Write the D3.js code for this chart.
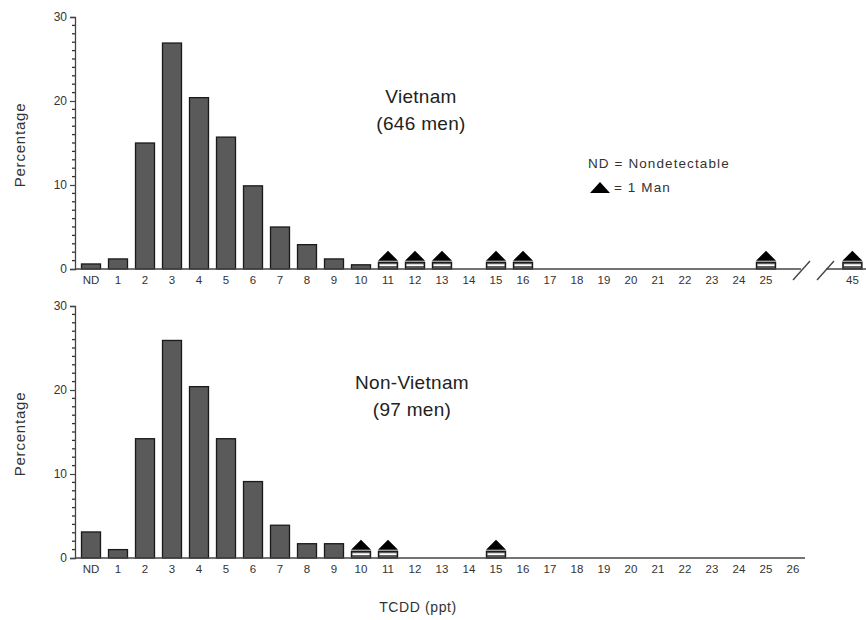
<!DOCTYPE html>
<html><head><meta charset="utf-8">
<script src="https://cdn.jsdelivr.net/npm/d3@7"></script>
<style>
body{margin:0;background:#fff;}
text{font-family:"Liberation Sans",Arial,Helvetica,sans-serif;}
</style></head>
<body>
<svg id="chart" width="866" height="620"></svg>
<script>
// ---- data ----
const topCategories = ["ND","1","2","3","4","5","6","7","8","9","10","11","12","13","14","15","16","17","18","19","20","21","22","23","24","25","45"];
const topBarCats = ["ND","1","2","3","4","5","6","7","8","9","10"];
const topValues = [0.6, 1.2, 15.0, 26.9, 20.4, 15.7, 9.9, 5.0, 2.9, 1.2, 0.5];
const topOneMan = ["11","12","13","15","16","25","45"];

const bottomCategories = ["ND","1","2","3","4","5","6","7","8","9","10","11","12","13","14","15","16","17","18","19","20","21","22","23","24","25","26"];
const bottomBarCats = ["ND","1","2","3","4","5","6","7","8","9"];
const bottomValues = [3.1, 1.0, 14.2, 25.9, 20.4, 14.2, 9.1, 3.9, 1.7, 1.7];
const bottomOneMan = ["10","11","15"];

const oneManHeight = 0.8;   // displayed height of a one-man bar (%)
const yTicks = [0, 10, 20, 30];

// ---- layout ----
const svg = d3.select("#chart");
const barW = 19;
const xLeft = 75;
// index of each category along the axis (the "45" slot sits beyond a break)
function catIndex(c){ return c === "45" ? 28.2 : (c === "ND" ? 0 : +c); }
const x = d3.scaleLinear().domain([0, 25]).range([91, 766]);
const fillC = "#5a5a5a", strokeC = "#1a1a1a", textC = "#333";

function panel(cfg){
  const g = svg.append("g");
  const y = d3.scaleLinear().domain([0, 30]).range([cfg.y0, cfg.y0 - 252]);

  // y axis with minor ticks
  const yAxis = d3.axisLeft(y).tickValues(yTicks).tickSize(5).tickPadding(3);
  const ya = g.append("g").attr("transform", `translate(${xLeft},0)`).call(yAxis);
  ya.select(".domain").attr("stroke", "#444").attr("stroke-width", 1.3);
  ya.selectAll(".tick line").attr("stroke", "#444").attr("stroke-width", 1.2);
  ya.selectAll(".tick text").attr("fill", textC).attr("font-size", 12).attr("font-family", "'Liberation Sans',Arial,sans-serif");
  const minor = d3.range(0, 31).filter(v => v % 10 !== 0);
  g.selectAll("line.minor").data(minor).join("line")
    .attr("x1", xLeft - 3).attr("x2", xLeft).attr("y1", d => y(d)).attr("y2", d => y(d))
    .attr("stroke", "#333").attr("stroke-width", 1.3);

  // bars
  g.selectAll("rect.bar").data(cfg.barCats.map((c,i)=>({c, v: cfg.values[i]}))).join("rect")
    .attr("x", d => x(catIndex(d.c)) - barW/2).attr("width", barW)
    .attr("y", d => y(d.v)).attr("height", d => cfg.y0 - y(d.v))
    .attr("fill", fillC).attr("stroke", strokeC).attr("stroke-width", 1.3);

  // one-man bars (with a light stripe) + triangles
  const om = g.selectAll("g.om").data(cfg.oneMan).join("g")
    .attr("transform", d => `translate(${x(catIndex(d))},0)`);
  const omTop = y(oneManHeight);
  om.append("rect").attr("x", -barW/2).attr("width", barW)
    .attr("y", omTop).attr("height", cfg.y0 - omTop)
    .attr("fill", fillC).attr("stroke", strokeC).attr("stroke-width", 1.4);
  om.append("line").attr("x1", -barW/2 + 1).attr("x2", barW/2 - 1)
    .attr("y1", (omTop + cfg.y0)/2 - 0.5).attr("y2", (omTop + cfg.y0)/2 - 0.5)
    .attr("stroke", "#fff").attr("stroke-width", 1.8);
  const ty = omTop - 1.5;
  om.append("path").attr("d", `M-10,${ty} L0,${ty-10} L10,${ty} Z`).attr("fill", "#000");

  // x axis baseline
  cfg.segments.forEach(s => {
    g.append("line").attr("x1", s[0]).attr("x2", s[1]).attr("y1", cfg.y0).attr("y2", cfg.y0)
      .attr("stroke", "#444").attr("stroke-width", 1.6);
  });
  // x tick labels
  g.selectAll("text.xl").data(cfg.categories).join("text")
    .attr("x", d => x(catIndex(d))).attr("y", cfg.y0 + 15)
    .attr("text-anchor", "middle").attr("font-size", 11.5).attr("fill", textC).text(d => d);

  // y label
  g.append("text").attr("transform", `translate(25,${cfg.y0 - 124}) rotate(-90)`)
    .attr("text-anchor", "middle").attr("font-size", 15).attr("letter-spacing", 0.8)
    .attr("fill", textC).text("Percentage");

  // titles
  cfg.titles.forEach((t, i) => {
    g.append("text").attr("x", cfg.titleX).attr("y", cfg.titleY + i*27)
      .attr("text-anchor", "middle").attr("font-size", 19).attr("letter-spacing", 0.3)
      .attr("fill", "#222").text(t);
  });
  return {g, y};
}

const topPanel = panel({y0: 269, categories: topCategories, barCats: topBarCats, values: topValues,
  oneMan: topOneMan, segments: [[xLeft, 801], [826, 866]], titles: ["Vietnam", "(646 men)"],
  titleX: 421, titleY: 103});
// break marks
topPanel.g.selectAll("line.brk").data([0, 24]).join("line")
  .attr("x1", d => 793 + d).attr("x2", d => 810 + d).attr("y1", 280).attr("y2", 261)
  .attr("stroke", "#444").attr("stroke-width", 1.4);

// legend
topPanel.g.append("text").attr("x", 588).attr("y", 168).attr("font-size", 13.5)
  .attr("letter-spacing", 1.1).attr("fill", textC).text("ND = Nondetectable");
topPanel.g.append("path").attr("d", "M590,193 L600,182 L610,193 Z").attr("fill", "#000");
topPanel.g.append("text").attr("x", 614).attr("y", 192).attr("font-size", 13.5)
  .attr("letter-spacing", 1.1).attr("fill", textC).text("= 1 Man");

panel({y0: 558, categories: bottomCategories, barCats: bottomBarCats, values: bottomValues,
  oneMan: bottomOneMan, segments: [[xLeft, 805]], titles: ["Non-Vietnam", "(97 men)"],
  titleX: 412, titleY: 389});

svg.append("text").attr("x", 418).attr("y", 612).attr("text-anchor", "middle")
  .attr("font-size", 14).attr("letter-spacing", 0.6).attr("fill", textC).text("TCDD (ppt)");
</script>
</body></html>
